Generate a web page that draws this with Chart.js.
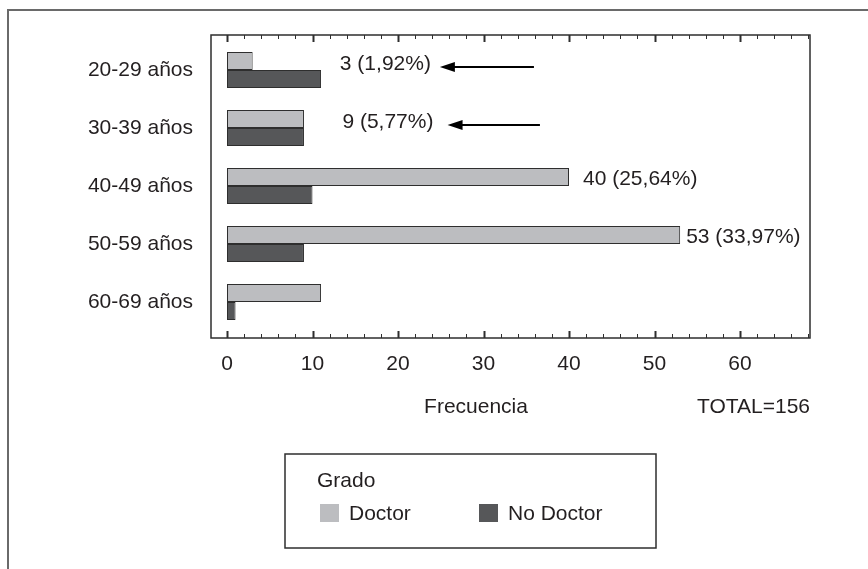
<!DOCTYPE html>
<html>
<head>
<meta charset="utf-8">
<script src="https://cdn.jsdelivr.net/npm/chart.js@4"></script>
<style>
  html, body { margin: 0; padding: 0; background: #fff; }
  #wrap { position: relative; width: 868px; height: 569px; }
</style>
</head>
<body>
<div id="wrap"><canvas id="edadChart"></canvas></div>
<script>
// datos del gráfico
const categorias = ['20-29 años', '30-39 años', '40-49 años', '50-59 años', '60-69 años'];
const doctor = [3, 9, 40, 53, 11];
const noDoctor = [11, 9, 10, 9, 1];
const xTicks = [0, 10, 20, 30, 40, 50, 60];
const nombresSeries = ['Doctor', 'No Doctor'];

const total = doctor.reduce((a, b) => a + b, 0) + noDoctor.reduce((a, b) => a + b, 0);

const colores = {
    claro: '#bcbdc0',
    oscuro: '#565759',
    borde: '#2e2e2e',
    texto: '#231f20',
    marco: '#6a6a6a'
};
const fuente = "'Liberation Sans', Arial, Helvetica, sans-serif";

Chart.defaults.font.family = fuente;
Chart.defaults.color = colores.texto;

// dibuja marco, marcas de eje, etiquetas, flechas y leyenda
const extrasPlugin = {
    id: 'extras',
    beforeDraw(chart) {
        const ctx = chart.ctx;
        ctx.save();
        ctx.strokeStyle = colores.marco;
        ctx.lineWidth = 2;
        ctx.beginPath();
        ctx.moveTo(8, chart.height);
        ctx.lineTo(8, 10);
        ctx.lineTo(chart.width, 10);
        ctx.stroke();
        ctx.restore();
    },
    afterDraw(chart) {
        const ctx = chart.ctx;
        const area = chart.chartArea;
        const xs = chart.scales.x;
        ctx.save();

        // marco del área
        ctx.strokeStyle = colores.borde;
        ctx.lineWidth = 1.5;
        ctx.strokeRect(area.left, area.top, area.right - area.left, area.bottom - area.top);

        // marcas hacia dentro, arriba y abajo
        for (let v = 0; v <= xs.max; v += 2) {
            const px = Math.round(xs.getPixelForValue(v)) + 0.5;
            const mayor = v % 10 === 0;
            const len = mayor ? 7 : 4;
            ctx.lineWidth = mayor ? 2 : 1;
            ctx.beginPath();
            ctx.moveTo(px, area.bottom);
            ctx.lineTo(px, area.bottom - len);
            ctx.moveTo(px, area.top);
            ctx.lineTo(px, area.top + len);
            ctx.stroke();
        }

        // etiquetas de frecuencia (Doctor)
        const meta = chart.getDatasetMeta(0);
        ctx.fillStyle = colores.texto;
        ctx.font = '21px ' + fuente;
        ctx.textBaseline = 'middle';
        ctx.textAlign = 'left';
        doctor.forEach((v, i) => {
            if (i === 4) return;
            const bar = meta.data[i];
            const pct = (v / total * 100).toFixed(2).replace('.', ',');
            const texto = v + ' (' + pct + '%)';
            if (i < 2) {
                const tx = xs.getPixelForValue(i === 0 ? 13.2 : 13.5);
                ctx.fillText(texto, tx, bar.y + 3);
                // flecha
                const punta = xs.getPixelForValue(i === 0 ? 24.9 : 25.8);
                const cola = xs.getPixelForValue(i === 0 ? 35.9 : 36.6);
                const ay = bar.y + 6;
                ctx.strokeStyle = '#000';
                ctx.lineWidth = 2.2;
                ctx.beginPath();
                ctx.moveTo(cola, ay);
                ctx.lineTo(punta + 10, ay);
                ctx.stroke();
                ctx.fillStyle = '#000';
                ctx.beginPath();
                ctx.moveTo(punta, ay);
                ctx.lineTo(punta + 15, ay - 5);
                ctx.lineTo(punta + 15, ay + 5);
                ctx.closePath();
                ctx.fill();
                ctx.fillStyle = colores.texto;
            } else {
                ctx.fillText(texto, bar.x + (i === 2 ? 14 : 6), bar.y + 2);
            }
        });

        // títulos del eje
        ctx.textBaseline = 'middle';
        ctx.textAlign = 'center';
        ctx.fillText('Frecuencia', 476, 407);
        ctx.textAlign = 'right';
        ctx.fillText('TOTAL=' + total, area.right, 407);

        // leyenda
        ctx.strokeStyle = colores.borde;
        ctx.lineWidth = 1.5;
        ctx.strokeRect(285, 454, 371, 94);
        ctx.textAlign = 'left';
        ctx.fillText('Grado', 317, 481);
        const posX = [320, 479];
        chart.data.datasets.forEach((ds, k) => {
            ctx.fillStyle = ds.backgroundColor;
            ctx.fillRect(posX[k], 504, 19, 18);
            ctx.fillStyle = colores.texto;
            ctx.fillText(ds.label, posX[k] + 29, 514);
        });

        ctx.restore();
    }
};

const ctx = document.getElementById('edadChart').getContext('2d');
const edadChart = new Chart(ctx, {
    type: 'bar',
    data: {
        datasets: [{
            label: nombresSeries[0],
            data: doctor.map((v, i) => ({ x: v, y: i })),
            backgroundColor: colores.claro,
            borderColor: colores.borde,
            borderWidth: 1,
            borderSkipped: false,
            inflateAmount: 0
        }, {
            label: nombresSeries[1],
            data: noDoctor.map((v, i) => ({ x: v, y: i })),
            backgroundColor: colores.oscuro,
            borderColor: colores.borde,
            borderWidth: 1,
            borderSkipped: false,
            inflateAmount: 0
        }]
    },
    options: {
        indexAxis: 'y',
        responsive: true,
        maintainAspectRatio: false,
        animation: false,
        categoryPercentage: 36 / 58,
        barPercentage: 1,
        layout: {
            padding: { left: 0, top: 35, right: 58, bottom: 191 }
        },
        scales: {
            x: {
                type: 'linear',
                min: -16 / 8.55,
                max: -16 / 8.55 + 599 / 8.55,
                grid: { display: false, drawTicks: false },
                border: { display: false },
                afterBuildTicks: (scale) => {
                    scale.ticks = xTicks.map(v => ({ value: v }));
                },
                afterFit: (scale) => { scale.height = 40; },
                ticks: {
                    padding: 14,
                    color: colores.texto,
                    font: { size: 21 },
                    maxRotation: 0
                }
            },
            y: {
                type: 'linear',
                reverse: true,
                offset: false,
                min: -35 / 58,
                max: -35 / 58 + 303 / 58,
                grid: { display: false, drawTicks: false },
                border: { display: false },
                afterBuildTicks: (scale) => {
                    scale.ticks = categorias.map((c, i) => ({ value: i }));
                },
                afterFit: (scale) => { scale.width = 211; },
                ticks: {
                    padding: 18,
                    color: colores.texto,
                    font: { size: 21 },
                    callback: (v) => categorias[v]
                }
            }
        },
        plugins: {
            legend: { display: false },
            tooltip: { enabled: false }
        }
    },
    plugins: [extrasPlugin]
});
</script>
</body>
</html>
